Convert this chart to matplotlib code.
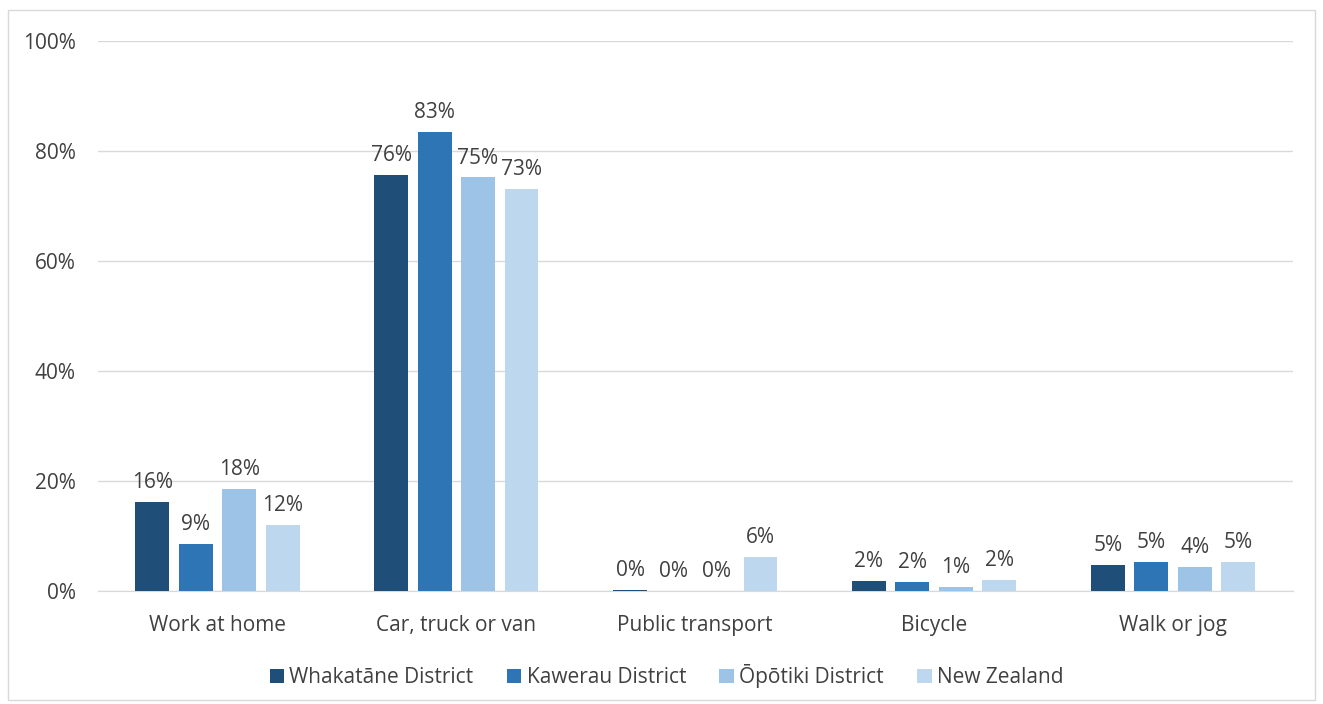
import matplotlib
matplotlib.use("Agg")
import matplotlib.pyplot as plt
import numpy as np
from matplotlib.patches import Rectangle

categories = ["Work at home", "Car, truck or van", "Public transport", "Bicycle", "Walk or jog"]
series_names = ["Whakatāne District", "Kawerau District", "Ōpōtiki District", "New Zealand"]
whakatane = [16.2, 75.6, 0.2, 1.9, 4.7]
kawerau = [8.5, 83.4, 0.0, 1.7, 5.3]
opotiki = [18.5, 75.2, 0.0, 0.8, 4.4]
new_zealand = [12.0, 73.1, 6.2, 2.0, 5.3]
labels_w = ["16%", "76%", "0%", "2%", "5%"]
labels_k = ["9%", "83%", "0%", "2%", "5%"]
labels_o = ["18%", "75%", "0%", "1%", "4%"]
labels_n = ["12%", "73%", "6%", "2%", "5%"]
yticks = [0, 20, 40, 60, 80, 100]

colors = ["#1F4E79", "#2E75B6", "#9DC3E6", "#BDD7EE"]
plt.rcParams['font.family'] = ['Open Sans', 'DejaVu Sans']
FS = 15

fig = plt.figure(figsize=(13.23, 7.04), dpi=100)
ax = fig.add_axes([0.074, 0.1605, 0.903, 0.7813])
fig.patches.append(Rectangle((0.006, 0.006), 0.988, 0.98, transform=fig.transFigure,
                             fill=False, edgecolor="#D9D9D9", linewidth=1))

x = np.arange(len(categories))
width = 0.142
step = 0.182
all_series = [whakatane, kawerau, opotiki, new_zealand]
all_labels = [labels_w, labels_k, labels_o, labels_n]
for i, (vals, labs) in enumerate(zip(all_series, all_labels)):
    pos = x + (i - 1.5) * step
    ax.bar(pos, vals, width, color=colors[i], label=series_names[i], zorder=3)
    for p, v, l in zip(pos, vals, labs):
        ax.text(p, v + 1.6, l, ha="center", va="bottom", fontsize=FS, color="#404040")

ax.set_xlim(-0.5, len(categories) - 0.5)
ax.set_ylim(0, 100)
ax.set_yticks(yticks)
ax.set_yticklabels([f"{t}%" for t in yticks])
ax.set_xticks(x)
ax.set_xticklabels(categories)
ax.tick_params(axis="both", length=0, labelsize=FS, labelcolor="#404040")
ax.tick_params(axis="x", pad=17)
ax.tick_params(axis="y", pad=16)
ax.grid(axis="y", color="#D9D9D9", linewidth=1, zorder=0)
for s in ["top", "right", "left"]:
    ax.spines[s].set_visible(False)
ax.spines["bottom"].set_color("#D9D9D9")

leg = ax.legend(loc="upper center", bbox_to_anchor=(0.476, -0.099), ncol=4, frameon=False,
                fontsize=FS, handlelength=0.7, handleheight=0.7, handletextpad=0.25,
                columnspacing=1.6, labelcolor="#404040")

fig.savefig("out.png", dpi=100)
